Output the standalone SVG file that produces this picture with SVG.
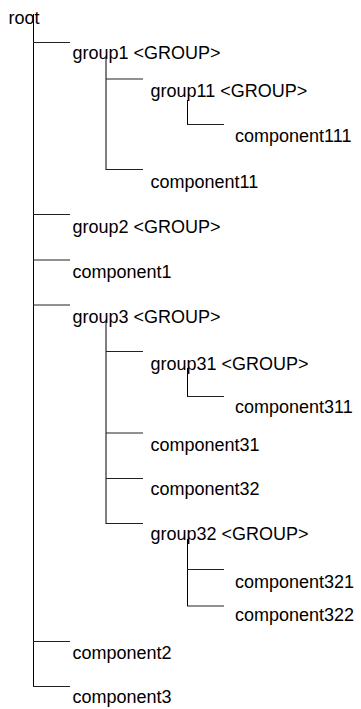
<svg xmlns="http://www.w3.org/2000/svg" width="361" height="709" viewBox="0 0 361 709">
<style>
text{font-family:"Liberation Sans",Arial,sans-serif;font-size:18px;fill:#000}
.c line{stroke:#000;stroke-width:1;fill:none}
.c .h{stroke:#222;stroke-width:1.1}
</style>
<rect width="361" height="709" fill="#fff"/>
<g class="c" id="connectors">
<line x1="33.5" y1="14" x2="33.5" y2="687"/>
<line class="h" x1="33" y1="42.5" x2="70" y2="42.5"/>
<line class="h" x1="33" y1="214.5" x2="70" y2="214.5"/>
<line class="h" x1="33" y1="260" x2="70" y2="260"/>
<line class="h" x1="33" y1="305" x2="70" y2="305"/>
<line class="h" x1="33" y1="641.5" x2="70" y2="641.5"/>
<line class="h" x1="33" y1="686.5" x2="70" y2="686.5"/>
<line x1="106" y1="58" x2="106" y2="170"/>
<line class="h" x1="106" y1="79" x2="143" y2="79"/>
<line class="h" x1="106" y1="169.5" x2="143" y2="169.5"/>
<line x1="187.5" y1="100" x2="187.5" y2="125"/>
<line class="h" x1="187" y1="124.5" x2="224" y2="124.5"/>
<line x1="106" y1="322" x2="106" y2="524"/>
<line class="h" x1="106" y1="351.5" x2="143" y2="351.5"/>
<line class="h" x1="106" y1="433" x2="143" y2="433"/>
<line class="h" x1="106" y1="478.5" x2="143" y2="478.5"/>
<line class="h" x1="106" y1="523.5" x2="143" y2="523.5"/>
<line x1="187.5" y1="368" x2="187.5" y2="397"/>
<line class="h" x1="187" y1="396.5" x2="224" y2="396.5"/>
<line x1="187.5" y1="539" x2="187.5" y2="606"/>
<line class="h" x1="187" y1="569.5" x2="224" y2="569.5"/>
<line class="h" x1="187" y1="606" x2="224" y2="606"/>
</g>
<g id="root"><text x="8.5" y="24">root</text></g>
<g id="group1"><text x="72.5" y="59">group1 &lt;GROUP&gt;</text></g>
<g id="group11"><text x="150.5" y="96.5">group11 &lt;GROUP&gt;</text></g>
<g id="component111"><text x="235" y="142">component111</text></g>
<g id="component11"><text x="150.5" y="188">component11</text></g>
<g id="group2"><text x="72.5" y="233">group2 &lt;GROUP&gt;</text></g>
<g id="component1"><text x="72.5" y="278">component1</text></g>
<g id="group3"><text x="72.5" y="323">group3 &lt;GROUP&gt;</text></g>
<g id="group31"><text x="150.5" y="370">group31 &lt;GROUP&gt;</text></g>
<g id="component311"><text x="235" y="413">component311</text></g>
<g id="component31"><text x="150.5" y="451">component31</text></g>
<g id="component32"><text x="150.5" y="495">component32</text></g>
<g id="group32"><text x="150.5" y="540">group32 &lt;GROUP&gt;</text></g>
<g id="component321"><text x="235" y="588">component321</text></g>
<g id="component322"><text x="235" y="621">component322</text></g>
<g id="component2"><text x="72.5" y="659">component2</text></g>
<g id="component3"><text x="72.5" y="703">component3</text></g>
</svg>
